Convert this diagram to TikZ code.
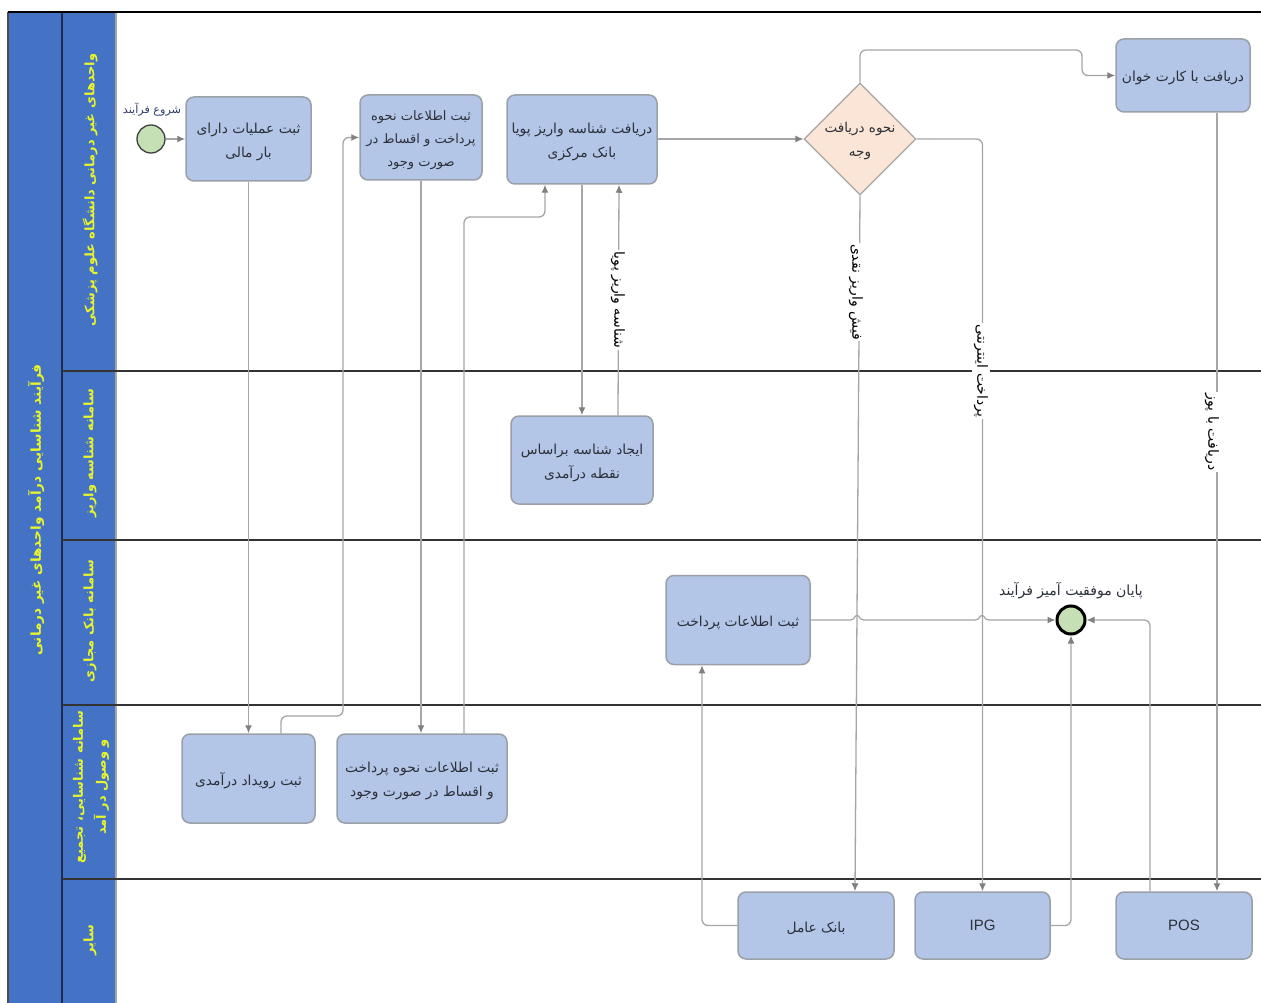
\documentclass[tikz,border=0pt]{standalone}
\usepackage{fontspec}
\usetikzlibrary{arrows.meta,shapes.geometric,calc}
\TeXXeTstate=1
\setmainfont{Liberation Sans}
\newfontfamily\arabicfont[Script=Arabic]{DejaVu Sans}
\newfontfamily\latinfont{Liberation Sans}
\newcommand{\fa}[1]{\beginR #1\endR}
\newcommand{\fb}[1]{\raisebox{-2.5pt}[\height][\depth]{\beginR #1\endR}}
\definecolor{poolblue}{HTML}{4472C4}
\definecolor{poolline}{HTML}{1F2D4D}
\definecolor{taskfill}{HTML}{B4C6E7}
\definecolor{taskline}{HTML}{9A9FA8}
\definecolor{flowline}{HTML}{A6A6A6}
\definecolor{flowtip}{HTML}{808080}
\definecolor{gwfill}{HTML}{FBE5D6}
\definecolor{evfill}{HTML}{C5E0B4}
\definecolor{ink}{HTML}{2B303A}
\definecolor{startink}{HTML}{2F3F6B}
\definecolor{headtext}{HTML}{E8F52A}
\tikzset{
  x=1pt,y=-1pt,
  taskbox/.style={draw=taskline,fill=taskfill,line width=1.5pt,rounded corners=8pt,inner sep=0pt,align=center,text=ink,
    font=\arabicfont\fontsize{13.8}{24}\selectfont},
  gateway/.style={draw=flowline,fill=gwfill,line width=1.2pt,diamond,aspect=1,inner sep=0pt,minimum width=112pt,minimum height=112pt,align=center,text=ink,
    font=\arabicfont\fontsize{13.5}{24}\selectfont},
  startev/.style={circle,draw=black!75,fill=evfill,line width=1.3pt,minimum size=28pt,inner sep=0pt},
  endev/.style={circle,draw=black,fill=evfill,line width=3pt,minimum size=28pt,inner sep=0pt},
  flow/.style={draw=flowline,line width=1.3pt,rounded corners=6pt},
  arrowflow/.style={flow,-{Latex[length=8pt,width=7pt,color=flowtip]}},
  lanehead/.style={rotate=90,text=headtext,align=center,font=\arabicfont\bfseries\fontsize{13}{23}\selectfont},
  flowlabel/.style={rotate=-90,fill=white,inner sep=1.5pt,text=black,font=\arabicfont\fontsize{14}{16}\selectfont},
  evlabel/.style={text=ink,font=\arabicfont\fontsize{14}{16}\selectfont},
  laneline/.style={draw=black!80,line width=1.2pt},
}
\begin{document}
\begin{tikzpicture}
\useasboundingbox (0,0) rectangle (1261,1003);
\fill[white] (0,0) rectangle (1261,1003);
% pool and lane headers
\fill[poolblue] (8,12) rectangle (115,1003);
\draw[draw=flowline,line width=1.2pt] (116,12) -- (116,1003);
\draw[draw=black!70,line width=1.2pt] (8,1003) -- (8,12);
\draw[draw=poolline,line width=1.2pt] (62,12) -- (62,1003);
\draw[laneline] (62,371) -- (1261,371);
\draw[laneline] (62,540) -- (1261,540);
\draw[laneline] (62,705) -- (1261,705);
\draw[laneline] (62,879) -- (1261,879);
\draw[draw=black,line width=2pt] (8,12) -- (1261,12);
\node[lanehead,font=\arabicfont\bfseries\fontsize{13.7}{18}\selectfont] (poolT) at (36,510) {\fa{فرآیند شناسایی درآمد واحدهای غیر درمانی}};
\node[lanehead] (lane1) at (90,190) {\fa{واحدهای غیر درمانی دانشگاه علوم پزشکی}};
\node[lanehead] (lane2) at (90,453) {\fa{سامانه شناسه واریز}};
\node[lanehead] (lane3) at (90,621) {\fa{سامانه بانک مجازی}};
\node[lanehead] (lane4) at (91,787) {\fa{سامانه شناسایی، تجمیع}\\\fa{و وصول در آمد}};
\node[lanehead] (lane5) at (90,940) {\fa{سایر}};
% nodes
\node[startev] (start) at (151,139) {};
\node[evlabel,text=startink,font=\arabicfont\fontsize{11.2}{12}\selectfont] (startL) at (152,110) {\fa{شروع فرآیند}};
\node[taskbox,minimum width=125pt,minimum height=84pt] (A) at (248.5,139) {\fb{ثبت عملیات دارای}\\\fb{بار مالی}};
\node[taskbox,minimum width=122pt,minimum height=85pt,font=\arabicfont\fontsize{13}{23}\selectfont] (B) at (421,137.5) {\fb{ثبت اطلاعات نحوه}\\\fb{پرداخت و اقساط در}\\\fb{صورت وجود}};
\node[taskbox,minimum width=150pt,minimum height=89pt] (C) at (582,139.5) {\fb{دریافت شناسه واریز پویا}\\\fb{بانک مرکزی}};
\node[gateway] (GW) at (860,139) {\fb{نحوه دریافت}\\\fb{وجه}};
\node[taskbox,minimum width=134pt,minimum height=73pt] (D) at (1183,75.5) {\fb{دریافت با کارت خوان}};
\node[taskbox,minimum width=142pt,minimum height=88pt] (E) at (582,460) {\fb{ایجاد شناسه براساس}\\\fb{نقطه درآمدی}};
\node[taskbox,minimum width=144pt,minimum height=89pt] (F) at (738,620) {\fb{ثبت اطلاعات پرداخت}};
\node[endev] (endE) at (1071,620) {};
\node[evlabel] (endL) at (1071,591) {\fa{پایان موفقیت آمیز فرآیند}};
\node[taskbox,minimum width=133pt,minimum height=89pt] (G) at (248.5,778.5) {\fb{ثبت رویداد درآمدی}};
\node[taskbox,minimum width=170pt,minimum height=89pt] (H) at (422,778.5) {\fb{ثبت اطلاعات نحوه پرداخت}\\\fb{و اقساط در صورت وجود}};
\node[taskbox,minimum width=156pt,minimum height=67pt] (I) at (816,925.5) {\fb{بانک عامل}};
\node[taskbox,minimum width=135pt,minimum height=67pt,font=\latinfont\fontsize{15}{18}\selectfont] (J) at (982.5,925.5) {IPG};
\node[taskbox,minimum width=136pt,minimum height=67pt,font=\latinfont\fontsize{15}{18}\selectfont] (K) at (1184,925.5) {POS};
% connectors
\draw[arrowflow] (start) -- (A);
\draw[arrowflow] (A.south) -- (G.north);
\draw[arrowflow] ([xshift=32.5pt]G.north) |- (343,716) |- (B.west);
\draw[arrowflow] (B.south) -- (B.south |- H.north);
\draw[arrowflow] ([xshift=42pt]H.north) |- (545,217) -- ([xshift=-37pt]C.south);
\draw[arrowflow] (C.south) -- (E.north);
\draw[arrowflow] ([xshift=36pt]E.north) -- ([xshift=37pt]C.south);
\draw[arrowflow] (C.east |- GW.west) -- (GW.west);
\draw[arrowflow] (GW.north) |- (1082,50) |- (D.west);
\draw[arrowflow] (GW.east) -| (J.north);
\draw[arrowflow] (GW.south) -- ([xshift=39pt]I.north);
\draw[arrowflow] ([xshift=34pt]D.south) -- ([xshift=33pt]K.north);
\draw[arrowflow,sharp corners] (F.east) -- (850,620) .. controls (855,620) and (854,615.5) .. (857,615.5) .. controls (860,615.5) and (859,620) .. (864,620) -- (975,620) .. controls (980,620) and (979,615.5) .. (982,615.5) .. controls (985,615.5) and (984,620) .. (989,620) -- (endE.west);
\draw[arrowflow] (I.west) -| ([xshift=-36pt]F.south);
\draw[arrowflow] (J.east) -| (endE.south);
\draw[arrowflow] ([xshift=-34pt]K.north) |- (endE.east);
% connector labels
\node[flowlabel] (lblC) at (618,300) {\fa{شناسه واریز پویا}};
\node[flowlabel] (lblGB) at (856,292) {\fa{فیش واریز نقدی}};
\node[flowlabel] (lblGR) at (981,371) {\fa{پرداخت اینترنتی}};
\node[flowlabel] (lblD) at (1212,432) {\fa{دریافت با پوز}};
\end{tikzpicture}
\end{document}
